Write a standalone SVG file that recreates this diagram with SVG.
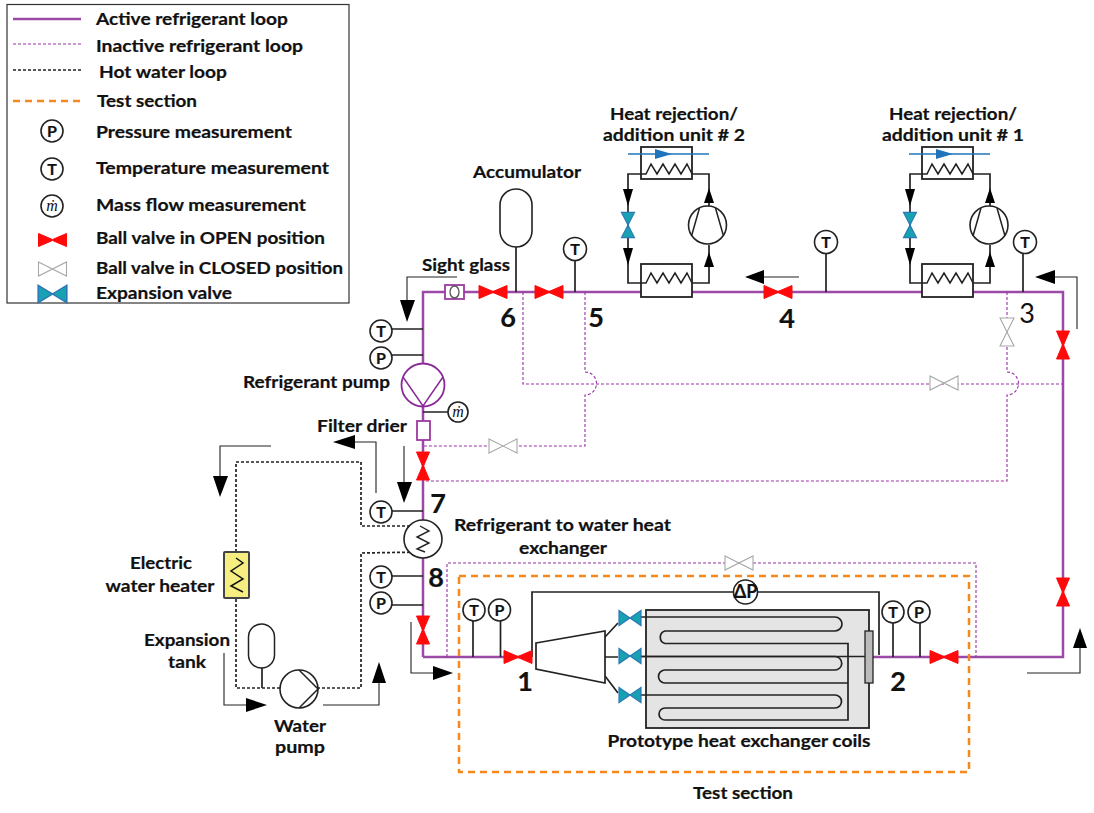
<svg xmlns="http://www.w3.org/2000/svg" xmlns:xlink="http://www.w3.org/1999/xlink" width="1094" height="813" viewBox="0 0 1094 813">
<style>
text{font-family:"Lato","Carlito","Liberation Sans",sans-serif;font-weight:700;font-size:17.500px;fill:#111;stroke:#111;stroke-width:.2}
.m{text-anchor:middle}
.n{font-size:27px;text-anchor:middle}
.s{font-size:16px;text-anchor:middle}
.mf{font-family:"Liberation Serif",serif;font-style:italic;font-weight:400;stroke:none}
.ms{fill:#fff;stroke:#222;stroke-width:1.600}
.act{fill:none;stroke:#9c4aa8;stroke-width:2.500}
.pur{fill:#fff;stroke:#9c3aa0;stroke-width:1.800}
.ina{fill:none;stroke:#9a30a8;stroke-width:1.100;stroke-dasharray:3 2}
.hot{fill:none;stroke:#222;stroke-width:1.700;stroke-dasharray:3 2}
.blk{fill:none;stroke:#222;stroke-width:1.700}
.thn{fill:none;stroke:#222;stroke-width:1.100}
.tri{fill:#000;stroke:none}
.org{fill:none;stroke:#f7891c;stroke-width:2.500;stroke-dasharray:7 5}
.blu{fill:none;stroke:#1f74bb;stroke-width:1.300}
</style>
<defs>
<path id="vo" d="M-14-6.500 L0-.5 L14-6.500 V6.500 L0 .5 L-14 6.500Z" fill="#ff0a0a" stroke="#ff0a0a" stroke-width="1"/>
<path id="vc" d="M-14-7 L14 7 L14-7 L-14 7Z" fill="#fff" stroke="#a8a8a8" stroke-width="1.100"/>
<path id="ve" d="M-11-7.500 L0 0 L-11 7.500Z M11-7.500 L0 0 L11 7.500Z" fill="#17a2b4" stroke="#2c78b4" stroke-width="1.200"/>
<g id="hxbox">
<rect x="0" y="0" width="51" height="32" fill="#fff" stroke="#222" stroke-width="1.800"/>
<path d="M0 27 L5 27 L10 17 L16 27 L22 17 L28 27 L34 17 L40 27 L46 17 L51 27" fill="none" stroke="#222" stroke-width="1.500"/>
</g>
<g id="comp">
<circle r="19" fill="#fff" stroke="#222" stroke-width="1.600"/>
<path d="M-8-17 L-16 11 M8-17 L16 11" fill="none" stroke="#222" stroke-width="1.500"/>
</g>
<path id="au" d="M0-8 L5 7 L-5 7Z" fill="#000"/>
<path id="ad" d="M-5-8 L5-8 L0 9Z" fill="#000"/>
</defs>
<rect width="1094" height="813" fill="#fff"/>

<g id="legend">
<rect x="7" y="4.500" width="342" height="298.500" fill="#fff" stroke="#333" stroke-width="1.200"/>
<path d="M13 19 H81" class="act"/>
<path d="M13 44 H81" class="ina"/>
<path d="M13 70 H81" class="hot"/>
<path d="M13 101 H80" class="org"/>
<circle cx="52" cy="131" r="11" class="ms"/><text x="52" y="137" class="s">P</text>
<circle cx="52" cy="169" r="11" class="ms"/><text x="52" y="175" class="s">T</text>
<circle cx="52" cy="206" r="11" class="ms"/><text x="52" y="211" class="s mf">ṁ</text>
<use href="#vo" x="52.500" y="240"/>
<use href="#vc" x="52.500" y="269"/>
<use href="#ve" transform="translate(52.500 294) scale(1.300 1.150)"/>
<text x="96" y="25" textLength="192" lengthAdjust="spacingAndGlyphs">Active refrigerant loop</text>
<text x="96" y="52" textLength="207" lengthAdjust="spacingAndGlyphs">Inactive refrigerant loop</text>
<text x="99" y="78" textLength="128" lengthAdjust="spacingAndGlyphs">Hot water loop</text>
<text x="97" y="107" textLength="100" lengthAdjust="spacingAndGlyphs">Test section</text>
<text x="96" y="138" textLength="196" lengthAdjust="spacingAndGlyphs">Pressure measurement</text>
<text x="96" y="174" textLength="233" lengthAdjust="spacingAndGlyphs">Temperature measurement</text>
<text x="96" y="211" textLength="210" lengthAdjust="spacingAndGlyphs">Mass flow measurement</text>
<text x="96" y="244" textLength="229" lengthAdjust="spacingAndGlyphs">Ball valve in OPEN position</text>
<text x="96" y="274" textLength="247" lengthAdjust="spacingAndGlyphs">Ball valve in CLOSED position</text>
<text x="96" y="299" textLength="136" lengthAdjust="spacingAndGlyphs">Expansion valve</text>
</g>

<g id="connectors">
<path class="act" d="M423 657 V292 H1063 V657 H873 M532 657 H423"/>
<path class="ina" d="M523 292 V384 H1063"/>
<path class="ina" d="M585 292 V372 A11.500 11.500 0 0 1 585 395 V446 H423"/>
<path class="ina" d="M1007 292 V372 A11.500 11.500 0 0 1 1007 395 V481 H423"/>
<path class="ina" d="M447 657 V563 H976 V657"/>
<path class="hot" d="M236 552 V462 H361 V526 H420"/>
<path class="hot" d="M425 552 L361 553 V688 H318"/>
<path class="hot" d="M280 688 H236 V598"/>
<path class="blk" d="M262 668 V688"/>
<path class="blk" d="M516 247 V292 M575 260 V292 M826 253 V292 M1023 253 V292"/>
<path class="blk" d="M392 329 H423 M392 355 H423 M392 511 H423 M392 576 H423 M392 605 H423 M423 412 H448"/>
<path class="blk" d="M473 621 V657 M500.500 621 V657 M893 623 V657 M920 623 V657"/>
<path class="blk" d="M532 657 V592 H879 V655"/>
<path class="blk" d="M605 657 H618 M605 637 L618 623 M605 676 L618 693"/>
<path class="thn" d="M457 277 H407 V300"/><path class="tri" d="M400 300 H415 L407 322Z"/>
<path class="thn" d="M799 277 H760"/><path class="tri" d="M745 277 L764 270 V284Z"/>
<path class="thn" d="M1077 329 V277 H1052"/><path class="tri" d="M1035 277 L1055 270 V284Z"/>
<path class="thn" d="M376 493 V442 H352"/><path class="tri" d="M333 442 L355 435 V449Z"/>
<path class="thn" d="M404 446 V482"/><path class="tri" d="M397 482 H412 L404 503Z"/>
<path class="thn" d="M271 446 H220 V476"/><path class="tri" d="M213 476 H228 L220 497Z"/>
<path class="thn" d="M224 653 V705 H247"/><path class="tri" d="M267 705 L246 698 V712Z"/>
<path class="thn" d="M323 705 H379 V683"/><path class="tri" d="M379 662 L372 683 H386Z"/>
<path class="thn" d="M411 622 V673 H433"/><path class="tri" d="M453 673 L433 666 V680Z"/>
<path class="thn" d="M1027 673 H1080 V648"/><path class="tri" d="M1080 628 L1073 648 H1087Z"/>
</g>

<g id="test-section">
<rect x="459" y="576" width="510" height="196" class="org"/>
<text x="743" y="799" class="m" textLength="100" lengthAdjust="spacingAndGlyphs">Test section</text>
</g>

<g id="sight-glass">
<rect x="445" y="285" width="19" height="14" class="pur"/>
<ellipse cx="454.500" cy="292" rx="4.500" ry="6" fill="#fff" stroke="#555" stroke-width="1.300"/>
<text x="466" y="271" class="m" textLength="88" lengthAdjust="spacingAndGlyphs">Sight glass</text>
</g>
<g id="accumulator">
<rect x="500" y="189" width="32" height="58" rx="16" ry="16" fill="#fff" stroke="#222" stroke-width="1.600"/>
<text x="527" y="178" class="m" textLength="108" lengthAdjust="spacingAndGlyphs">Accumulator</text>
</g>
<g id="valves">
<use href="#vo" x="493" y="292"/>
<use href="#vo" x="549" y="292"/>
<use href="#vo" x="778" y="292"/>
<use href="#vo" x="518" y="657"/>
<use href="#vo" x="944" y="657"/>
<use href="#vo" transform="translate(423 466) rotate(90)"/>
<use href="#vo" transform="translate(423 630) rotate(90)"/>
<use href="#vo" transform="translate(1063 345) rotate(90)"/>
<use href="#vo" transform="translate(1063 592) rotate(90)"/>
<use href="#vc" x="503" y="446"/>
<use href="#vc" x="944" y="383"/>
<use href="#vc" x="739" y="563"/>
<use href="#vc" transform="translate(1007 332) rotate(90)"/>
</g>
<g id="sensors">
<circle cx="575" cy="249" r="11.500" class="ms"/><text x="575" y="255" class="s">T</text>
<circle cx="826" cy="242" r="11.500" class="ms"/><text x="826" y="248" class="s">T</text>
<circle cx="1025" cy="242" r="11.500" class="ms"/><text x="1025" y="248" class="s">T</text>
<circle cx="381" cy="331" r="11" class="ms"/><text x="381" y="337" class="s">T</text>
<circle cx="381" cy="358" r="11" class="ms"/><text x="381" y="364" class="s">P</text>
<circle cx="458" cy="412" r="10" class="ms"/><text x="458" y="416.500" class="s mf">ṁ</text>
<circle cx="381" cy="512" r="11" class="ms"/><text x="381" y="518" class="s">T</text>
<circle cx="381" cy="577" r="11" class="ms"/><text x="381" y="583" class="s">T</text>
<circle cx="381" cy="603" r="11" class="ms"/><text x="381" y="609" class="s">P</text>
<circle cx="474" cy="610" r="11" class="ms"/><text x="474" y="616" class="s">T</text>
<circle cx="499.500" cy="610" r="11" class="ms"/><text x="499.500" y="616" class="s">P</text>
<circle cx="893" cy="612" r="11" class="ms"/><text x="893" y="618" class="s">T</text>
<circle cx="919" cy="612" r="11" class="ms"/><text x="919" y="618" class="s">P</text>
<circle cx="745.500" cy="592" r="12" class="ms"/><text x="745.500" y="598" class="s" style="font-size:18px">ΔP</text>
</g>

<g id="unit-2">
<path class="blk" d="M641 174 H628 V283 H641 M692 174 H709 V206 M692 283 H709 V245"/>
<use href="#hxbox" x="641" y="147"/>
<rect x="641" y="264" width="51" height="33" fill="#fff" stroke="#222" stroke-width="1.800"/>
<path d="M641 283 L646 283 L651 273 L657 283 L663 273 L669 283 L675 273 L681 283 L687 273 L692 283" fill="none" stroke="#222" stroke-width="1.500"/>
<path class="blu" d="M628 154 H709"/><path d="M672 154 L655 149 V159Z" fill="#1f74bb"/>
<use href="#ad" x="628" y="197"/><use href="#ad" x="628" y="256"/>
<use href="#ve" transform="translate(628 225) rotate(90) scale(1.150 .87)"/>
<use href="#comp" x="707.500" y="225"/>
<use href="#au" x="709" y="196"/><use href="#au" x="709" y="260"/>
<text x="674" y="120" class="m" textLength="128" lengthAdjust="spacingAndGlyphs">Heat rejection/</text>
<text x="674" y="141" class="m" textLength="142" lengthAdjust="spacingAndGlyphs">addition unit # 2</text>
</g>
<g id="unit-1">
<path class="blk" d="M922 174 H910 V283 H922 M973 174 H990 V206 M973 283 H990 V245"/>
<use href="#hxbox" x="922" y="147"/>
<rect x="922" y="264" width="51" height="33" fill="#fff" stroke="#222" stroke-width="1.800"/>
<path d="M922 283 L927 283 L932 273 L938 283 L944 273 L950 283 L956 273 L962 283 L968 273 L973 283" fill="none" stroke="#222" stroke-width="1.500"/>
<path class="blu" d="M909 154 H990"/><path d="M953 154 L936 149 V159Z" fill="#1f74bb"/>
<use href="#ad" x="910" y="197"/><use href="#ad" x="910" y="256"/>
<use href="#ve" transform="translate(910 225) rotate(90) scale(1.150 .87)"/>
<use href="#comp" x="989" y="225"/>
<use href="#au" x="990" y="196"/><use href="#au" x="990" y="260"/>
<text x="953" y="120" class="m" textLength="128" lengthAdjust="spacingAndGlyphs">Heat rejection/</text>
<text x="953" y="141" class="m" textLength="142" lengthAdjust="spacingAndGlyphs">addition unit # 1</text>
</g>

<g id="refrigerant-pump">
<circle cx="423" cy="385" r="21.500" fill="#fff" stroke="#8a2a98" stroke-width="1.800"/>
<path d="M403 377 L423 406 L443 377" fill="none" stroke="#8a2a98" stroke-width="1.500"/>
<text x="316.500" y="388" class="m" textLength="147" lengthAdjust="spacingAndGlyphs">Refrigerant pump</text>
</g>
<g id="filter-drier">
<rect x="417" y="421" width="13" height="19" class="pur"/>
<text x="362" y="432" class="m" textLength="90" lengthAdjust="spacingAndGlyphs">Filter drier</text>
</g>
<g id="water-hx">
<circle cx="423" cy="539" r="19" fill="#fff" stroke="#222" stroke-width="1.600"/>
<path d="M420 526 L429 531 L417 537 L429 543 L417 549 L425 552" fill="none" stroke="#222" stroke-width="1.400"/>
<text x="562.500" y="531" class="m" textLength="217" lengthAdjust="spacingAndGlyphs">Refrigerant to water heat</text>
<text x="563" y="554" class="m" textLength="88" lengthAdjust="spacingAndGlyphs">exchanger</text>
</g>
<g id="water-heater">
<rect x="224" y="552" width="25" height="46" rx="1" fill="#f6ee80" stroke="#444" stroke-width="2"/>
<path d="M236 558 L243 563 L231 571 L243 579 L231 586 L243 592" fill="none" stroke="#111" stroke-width="1.500"/>
<text x="161" y="569" class="m" textLength="62" lengthAdjust="spacingAndGlyphs">Electric</text>
<text x="160" y="592" class="m" textLength="109" lengthAdjust="spacingAndGlyphs">water heater</text>
</g>
<g id="expansion-tank">
<rect x="248.500" y="624" width="26" height="44" rx="13" ry="13" fill="#fff" stroke="#222" stroke-width="1.500"/>
<text x="187" y="646" class="m" textLength="86" lengthAdjust="spacingAndGlyphs">Expansion</text>
<text x="187" y="668" class="m" textLength="38" lengthAdjust="spacingAndGlyphs">tank</text>
</g>
<g id="water-pump">
<circle cx="299" cy="689" r="19" fill="#fff" stroke="#222" stroke-width="1.600"/>
<path d="M299 670 L318 689 L299 708" fill="none" stroke="#222" stroke-width="1.500"/>
<text x="300" y="732" class="m" textLength="52" lengthAdjust="spacingAndGlyphs">Water</text>
<text x="300" y="753" class="m" textLength="50" lengthAdjust="spacingAndGlyphs">pump</text>
</g>

<g id="prototype-hx">
<rect x="646" y="610" width="223" height="118" fill="#e4e4e4" stroke="#222" stroke-width="1.800"/>
<path class="blk" d="M641 617 H835 A7 7 0 0 1 835 631 H665 A6.500 6.500 0 0 0 665 643.500 H848 V720 H665 A6 6 0 0 1 665 708 H835 A6.500 6.500 0 0 0 835 695 H641"/>
<path class="blk" d="M641 656.500 H835 A6.500 6.500 0 0 1 835 670 H665 A6.500 6.500 0 0 0 665 683 H848"/>
<path class="blk" d="M641 656.500 H865"/>
<rect x="865" y="631" width="8" height="52" fill="#bbb" stroke="#222" stroke-width="1.300"/>
<path d="M536 643 L605 631 V683 L536 669Z" fill="#fff" stroke="#222" stroke-width="1.700"/>
<use href="#ve" x="630" y="618"/>
<use href="#ve" x="630" y="656"/>
<use href="#ve" x="630" y="695"/>
<text x="739" y="747" class="m" textLength="263" lengthAdjust="spacingAndGlyphs">Prototype heat exchanger coils</text>
</g>

<g id="state-labels">
<text x="525" y="691" class="n">1</text>
<text x="898" y="691" class="n">2</text>
<text x="1027" y="323" class="n" style="font-weight:400;stroke:none">3</text>
<text x="787" y="328" class="n">4</text>
<text x="596" y="327" class="n">5</text>
<text x="508" y="327" class="n">6</text>
<text x="438" y="513" class="n">7</text>
<text x="436" y="587" class="n">8</text>
</g>
</svg>
